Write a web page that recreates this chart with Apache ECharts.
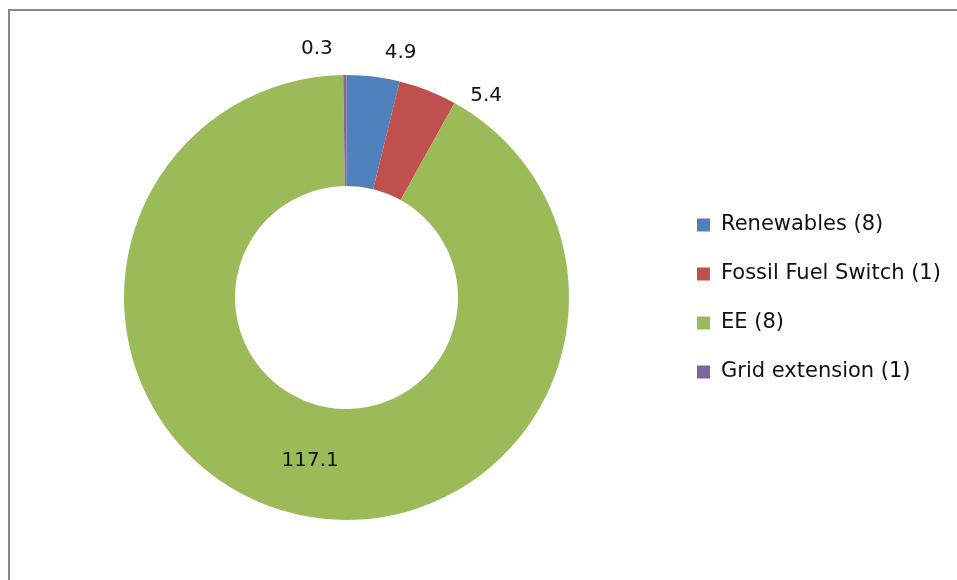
<!DOCTYPE html>
<html>
<head>
<meta charset="utf-8">
<script src="https://cdn.jsdelivr.net/npm/echarts@6/dist/echarts.min.js"></script>
<style>
  html, body { margin: 0; padding: 0; background: #fff; }
  #chart { width: 957px; height: 580px; }
</style>
</head>
<body>
<div id="chart"></div>
<script>
// Project categories and their totals
const categories = ['Renewables (8)', 'Fossil Fuel Switch (1)', 'EE (8)', 'Grid extension (1)'];
const values = [4.9, 5.4, 117.1, 0.3];
const colors = ['#4F81BD', '#C0504D', '#9BBB59', '#8064A2'];
const insideLabel = [false, false, true, false];

const FONT = 'DejaVu Sans';

// small per-slice label nudges (pixels) applied after the pie lays labels out
const labelNudge = [[5, -12], [33, 17], [5, -2], [-7, -14]];

const chart = echarts.init(document.getElementById('chart'), null, { renderer: 'canvas' });

const pieData = categories.map((name, i) => ({
  name: name,
  value: values[i],
  itemStyle: { color: colors[i] },
  label: insideLabel[i] ? { position: 'inside' } : { position: 'outside' }
}));

chart.setOption({
  animation: false,
  backgroundColor: '#ffffff',
  graphic: [{
    type: 'rect',
    shape: { x: 9, y: 10, width: 980, height: 620 },
    style: { fill: 'none', stroke: '#878787', lineWidth: 2 },
    silent: true
  }],
  legend: {
    orient: 'vertical',
    left: 697,
    top: 214.5,
    padding: 0,
    itemWidth: 13,
    itemHeight: 13,
    itemGap: 28,
    icon: 'rect',
    textStyle: { fontFamily: FONT, fontSize: 21, lineHeight: 21, color: '#111', padding: [0, 0, 0, 6] },
    data: categories
  },
  series: [{
    type: 'pie',
    center: [346.5, 297.5],
    radius: [111.5, 222.5],
    startAngle: 90,
    clockwise: true,
    avoidLabelOverlap: false,
    label: {
      show: true,
      formatter: '{c}',
      fontFamily: FONT,
      fontSize: 20,
      color: '#111'
    },
    labelLine: { show: false, length: 12, length2: 0 },
    labelLayout: function (params) {
      const n = labelNudge[params.dataIndex];
      return { dx: n[0], dy: n[1] };
    },
    itemStyle: { borderWidth: 0 },
    emphasis: { disabled: true },
    data: pieData
  }]
});
</script>
</body>
</html>
